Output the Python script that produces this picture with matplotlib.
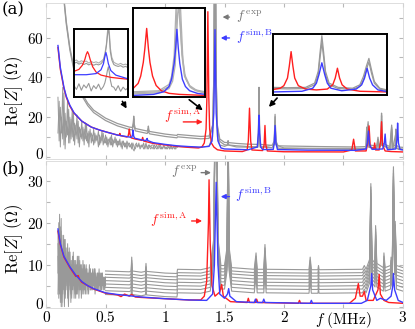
import numpy as np
import matplotlib.pyplot as plt
import matplotlib.transforms as mtransforms

plt.rcParams['mathtext.fontset'] = 'cm'
plt.rcParams['font.family'] = 'serif'
plt.rcParams['font.serif'] = ['DejaVu Serif']

GRAY = '#999999'
LGRAY = '#b0b0b0'
RED = '#ff1f1f'
BLUE = '#3d3dff'

# ---------------- panel (a) data ----------------
# noisy low-frequency measurements, sampled on a regular grid 0.10 .. 1.09 MHz
ga_noise = [
    [30, 8, 25, 12, 35, 6, 22, 10, 28, 7,
     20, 9, 24, 8, 17, 11, 21, 7, 15, 10,
     18, 8, 14, 9, 16, 7, 13, 10, 12, 8,
     14, 7, 11, 9, 13, 6, 10, 8, 12, 7,
     11, 6, 9, 8, 10, 6, 9, 7, 10, 6,
     8, 6, 9, 5, 8, 6, 7, 5, 8, 6,
     7, 5, 7, 4, 3, 6, 7, 5, 6, 5,
     6, 5, 7, 4, 6, 5, 4, 6, 5, 6,
     6, 4, 5, 6, 4, 5, 6, 4, 5, 5,
     5, 4, 5, 6, 4, 5, 4, 5, 4, 5],
    [12, 28, 5, 20, 9, 32, 4, 18, 11, 24,
     7, 19, 10, 22, 6, 16, 9, 18, 5, 14,
     9, 15, 6, 17, 8, 12, 5, 14, 7, 11,
     6, 12, 8, 10, 5, 11, 7, 13, 6, 9,
     7, 10, 5, 9, 6, 11, 5, 8, 7, 9,
     5, 8, 6, 7, 4, 8, 5, 7, 4, 7,
     5, 6, 4, 7, 5, 4, 6, 5, 7, 4,
     5, 6, 4, 5, 7, 4, 6, 5, 4, 5,
     4, 6, 5, 4, 5, 6, 4, 5, 4, 6,
     4, 5, 4, 5, 4, 6, 4, 5, 5, 4],
]

ga_low = [(1.095, 4.5), (1.11, 5.2), (1.2, 5.0), (1.3, 4.8), (1.37, 5.5), (1.40, 10),
          (1.41, 30), (1.415, 85), (1.425, 85), (1.43, 30), (1.44, 10), (1.46, 6),
          (1.5, 5.3), (1.53, 6.0), (1.6, 5.0), (1.78, 4.8), (1.785, 10), (1.79, 28),
          (1.795, 10), (1.80, 4.8), (1.918, 6), (1.925, 18), (1.932, 6), (2.0, 4.5),
          (2.3, 4.3), (2.69, 4.3), (2.695, 12), (2.70, 6), (2.707, 14), (2.714, 5),
          (2.78, 4.5), (2.79, 8.5), (2.80, 4.5), (2.815, 6), (2.82, 19), (2.825, 6),
          (2.9, 4.3), (2.905, 14), (2.915, 4.3), (2.94, 12), (2.945, 4.3), (3.0, 4.0)]

ga_up = [(0.13, 95), (0.15, 80), (0.17, 68), (0.2, 55), (0.25, 40), (0.3, 32),
         (0.35, 27), (0.4, 23.5), (0.5, 19.5), (0.6, 16.8), (0.7, 15), (0.725, 14.8),
         (0.733, 17), (0.737, 20.5), (0.741, 16.5), (0.75, 14.3), (0.85, 13),
         (0.856, 13.8), (0.86, 15.5), (0.864, 13.5), (0.87, 12.8), (1.0, 11.5),
         (1.1, 10.8), (1.105, 11.3), (1.2, 10.8), (1.3, 10.3), (1.37, 10.5), (1.40, 16),
         (1.41, 40), (1.415, 90), (1.425, 90), (1.43, 40), (1.44, 16), (1.46, 9),
         (1.5, 7.3), (1.525, 7.2), (1.53, 8.2), (1.535, 7.2), (1.6, 6.8), (1.7, 6.4),
         (1.78, 6.3), (1.785, 12), (1.79, 35), (1.795, 12), (1.80, 6.3), (1.9, 5.8),
         (1.918, 8), (1.925, 21.4), (1.932, 8), (1.95, 5.6), (2.0, 5.5), (2.3, 5.2),
         (2.6, 5.0), (2.69, 5.2), (2.695, 15), (2.70, 8), (2.707, 17.7), (2.714, 6),
         (2.78, 5.5), (2.79, 9.9), (2.80, 5.6), (2.815, 7), (2.82, 22), (2.825, 7),
         (2.89, 5.2), (2.905, 16), (2.915, 5.2), (2.935, 6), (2.94, 14), (2.945, 6),
         (2.96, 5), (3.0, 4.8)]
ga_up_shift = [0.0, -1.2]

red_a = [(0.1, 55), (0.12, 44), (0.15, 34.5), (0.17, 30), (0.2, 25.5), (0.235, 22),
         (0.3, 18), (0.38, 15), (0.45, 13.5), (0.52, 12.3), (0.6, 11), (0.615, 10.8),
         (0.62, 11.8), (0.625, 10.7), (0.68, 10), (0.69, 10.5), (0.695, 12), (0.70, 14),
         (0.705, 11.5), (0.715, 9.6), (0.75, 9.0), (0.805, 8.3), (0.812, 9.8),
         (0.82, 8.0), (0.9, 6.8), (1.0, 6.0), (1.1, 5.3), (1.2, 4.8), (1.28, 4.5),
         (1.31, 5), (1.33, 7), (1.345, 14), (1.352, 30), (1.36, 73), (1.368, 30),
         (1.375, 14), (1.39, 7), (1.41, 5), (1.44, 3.6), (1.5, 3.0), (1.65, 2.7),
         (1.69, 3.5), (1.70, 8), (1.71, 24.5), (1.72, 8), (1.73, 3.5), (1.82, 3.2),
         (1.833, 6), (1.84, 15.8), (1.847, 6), (1.86, 3), (2.0, 2.6), (2.5, 2.5),
         (2.57, 3.5), (2.585, 8.9), (2.6, 3), (2.69, 3), (2.705, 7), (2.715, 15.6),
         (2.725, 5), (2.755, 4), (2.762, 7), (2.77, 3.5), (2.80, 3.5), (2.812, 8),
         (2.82, 17.7), (2.828, 6), (2.85, 3), (2.9, 2.7), (3.0, 2.5)]

blue_a = [(0.1, 56), (0.12, 45), (0.15, 35), (0.17, 30.5), (0.2, 26), (0.235, 22.2),
          (0.3, 18), (0.38, 15), (0.45, 13.5), (0.52, 12.3), (0.6, 11), (0.66, 10.4),
          (0.72, 9.8), (0.726, 11), (0.731, 13.5), (0.736, 10.5), (0.745, 9.4),
          (0.80, 8.6), (0.84, 8.2), (0.846, 9), (0.85, 9.3), (0.855, 8.2), (0.9, 7.2),
          (1.0, 6.3), (1.1, 5.6), (1.2, 5.2), (1.3, 4.9), (1.37, 5.3), (1.395, 8),
          (1.41, 22), (1.42, 64), (1.43, 22), (1.445, 8), (1.47, 4.5), (1.5, 4.0),
          (1.7, 3.6), (1.775, 5), (1.785, 12), (1.79, 21), (1.795, 12), (1.805, 5),
          (1.82, 3.7), (1.91, 3.8), (1.918, 7), (1.925, 15.8), (1.932, 7), (1.945, 3.7),
          (2.2, 3.4), (2.6, 3.3), (2.69, 4), (2.70, 7), (2.71, 13), (2.72, 6),
          (2.74, 3.8), (2.83, 4), (2.843, 7), (2.85, 11.5), (2.857, 6), (2.87, 3.6),
          (2.94, 4), (2.95, 9), (2.955, 17), (2.962, 7), (2.975, 3.8), (3.0, 3.5)]

# insets of panel (a)
in1_red = [(0.665, 8.8), (0.675, 9.3), (0.682, 10.4), (0.687, 11.9), (0.690, 13.3),
           (0.6925, 14.0), (0.695, 13.3), (0.698, 11.9), (0.703, 10.0), (0.71, 8.6),
           (0.72, 7.8), (0.74, 7.2), (0.76, 6.9), (0.775, 6.7)]
in1_blue = [(0.665, 7.9), (0.69, 7.9), (0.71, 8.2), (0.72, 9.2), (0.725, 10.8),
            (0.728, 12.8), (0.730, 13.8), (0.732, 12.8), (0.735, 10.8), (0.74, 9.0),
            (0.75, 7.8), (0.775, 6.8)]
in1_f = [0.665, 0.67, 0.675, 0.68, 0.685, 0.69, 0.695, 0.70, 0.705, 0.71, 0.715, 0.72,
         0.725, 0.728, 0.731, 0.733, 0.735, 0.737, 0.739, 0.742, 0.746, 0.75, 0.755,
         0.76, 0.765, 0.77, 0.775]
in1_gray_hi = [11.5, 11.8, 11.2, 11.6, 11.3, 11.5, 11.0, 11.4, 11.1, 11.3, 11.0, 11.4,
               12.0, 13.5, 16, 19, 21, 19, 15, 12.5, 11.2, 10.9, 10.6, 10.9, 10.5, 10.7, 10.4]
in1_gray_mid = [10.9, 11.2, 10.7, 11.0, 10.6, 10.9, 10.5, 10.8, 10.4, 10.7, 10.5, 10.8,
                11.6, 13, 15.5, 18, 20.5, 18, 14, 11.8, 10.6, 10.3, 10.1, 10.3, 9.9, 10.1, 9.8]
in1_gray_lo = [5.0, 4.0, 5.5, 3.8, 5.2, 4.4, 5.6, 3.6, 5.0, 4.2, 5.4, 3.9, 4.8, 5.8,
               7.5, 9, 10, 8.5, 6.5, 4.8, 4.6, 3.7, 5.0, 3.5, 4.6, 3.9, 4.4]

in2_red = [(1.33, 8), (1.34, 13), (1.345, 20), (1.35, 33), (1.353, 46), (1.3566, 65.5),
           (1.36, 46), (1.363, 33), (1.368, 20), (1.375, 11), (1.385, 6), (1.40, 3.5),
           (1.42, 2.5), (1.47, 1.5)]
in2_blue = [(1.33, 1.5), (1.37, 2.5), (1.39, 5), (1.40, 10), (1.405, 17), (1.41, 32),
            (1.413, 47), (1.4154, 64.6), (1.418, 47), (1.421, 32), (1.426, 17),
            (1.432, 10), (1.44, 6), (1.455, 3.5), (1.47, 2.5)]
in2_gray = [
    [(1.33, 5), (1.38, 6), (1.40, 12), (1.405, 20), (1.41, 40), (1.414, 90), (1.42, 90),
     (1.425, 40), (1.43, 20), (1.44, 10), (1.45, 7), (1.47, 5)],
    [(1.33, 4), (1.38, 5), (1.40, 10), (1.406, 18), (1.411, 36), (1.416, 90), (1.422, 90),
     (1.427, 36), (1.432, 18), (1.442, 9), (1.452, 6), (1.47, 4)],
    [(1.33, 3), (1.38, 4), (1.40, 8), (1.407, 15), (1.412, 30), (1.417, 80), (1.419, 85),
     (1.425, 45), (1.43, 22), (1.44, 11), (1.455, 6), (1.47, 3.5)],
]

in3_red = [(1.66, 3.2), (1.68, 4), (1.69, 5.5), (1.70, 10), (1.705, 17), (1.71, 25.6),
           (1.715, 17), (1.72, 10), (1.73, 5.5), (1.75, 3.5), (1.78, 3), (1.81, 3.5),
           (1.825, 6), (1.832, 10), (1.838, 15.8), (1.844, 10), (1.851, 6), (1.865, 3.5),
           (1.9, 2.2), (1.975, 1.8)]
in3_blue = [(1.66, 1.8), (1.74, 2.2), (1.77, 4), (1.78, 7), (1.787, 12), (1.795, 19),
            (1.803, 12), (1.81, 7), (1.82, 4), (1.85, 2.5), (1.89, 3.5), (1.905, 6),
            (1.913, 10), (1.92, 15.8), (1.927, 10), (1.935, 6), (1.95, 3), (1.975, 2)]
in3_gray = [
    [(1.66, 4.5), (1.70, 4.3), (1.75, 4.5), (1.775, 7), (1.785, 14), (1.79, 25),
     (1.795, 35), (1.80, 25), (1.805, 14), (1.815, 7), (1.84, 4.5), (1.88, 4), (1.90, 6),
     (1.91, 11), (1.918, 17), (1.925, 21.6), (1.932, 15), (1.94, 8), (1.955, 4), (1.975, 3)],
    [(1.66, 3.8), (1.70, 3.6), (1.75, 3.8), (1.775, 6), (1.785, 12), (1.79, 22),
     (1.795, 31), (1.80, 22), (1.805, 12), (1.815, 6), (1.84, 3.8), (1.88, 3.4), (1.90, 5),
     (1.91, 9), (1.918, 15), (1.925, 19.5), (1.932, 13), (1.94, 7), (1.955, 3.5), (1.975, 2.6)],
]

# ---------------- panel (b) data ----------------
# noisy low-frequency traces, regular grid 0.10 .. 0.50 MHz
gb_noise = [
    [18, 2, 14, 5, 21, 1, 12, 4, 16, 3, 11, 6, 15, 2, 13, 4, 10, 3, 12, 5,
     9, 3, 11, 4, 10, 5, 12, 4, 8, 3, 9, 5, 10, 4, 8, 5, 9, 4, 7, 5,
     9, 4, 8, 5, 7, 4, 8, 5, 7, 4, 7, 5, 8, 4, 7, 5, 7, 4, 6, 5],
    [8, 20, 3, 15, 0, 17, 6, 12, 1, 14, 5, 10, 2, 13, 7, 11, 3, 9, 6, 12,
     2, 10, 7, 9, 3, 8, 6, 11, 4, 9, 6, 8, 3, 10, 7, 9, 5, 8, 6, 9,
     4, 8, 6, 9, 5, 8, 6, 7, 4, 8, 6, 8, 5, 7, 6, 8, 5, 7, 6, 7],
    [12, 4, 22, 7, 13, 0, 10, 8, 15, 2, 9, 6, 11, 1, 14, 5, 8, 2, 10, 7,
     4, 11, 3, 8, 6, 9, 2, 7, 5, 10, 3, 8, 6, 7, 4, 9, 5, 7, 3, 8,
     6, 7, 4, 8, 5, 9, 3, 7, 6, 8, 4, 7, 5, 8, 4, 6, 5, 7, 4, 6],
    [3, 16, 9, 19, 2, 13, 7, 17, 0, 11, 8, 14, 3, 12, 6, 9, 1, 11, 8, 13,
     5, 9, 2, 10, 7, 12, 4, 9, 7, 8, 4, 11, 6, 8, 3, 9, 7, 8, 5, 10,
     4, 8, 6, 7, 5, 9, 4, 8, 6, 7, 5, 9, 4, 7, 6, 8, 4, 7, 5, 7],
    [15, 6, 10, 1, 18, 9, 3, 14, 7, 16, 4, 9, 12, 0, 8, 13, 6, 10, 4, 9,
     11, 5, 8, 3, 12, 6, 9, 5, 10, 2, 7, 9, 4, 8, 6, 10, 3, 7, 8, 5,
     9, 6, 7, 4, 8, 6, 9, 5, 7, 5, 8, 6, 7, 5, 8, 5, 6, 6, 7, 5],
]

# common shape of the stacked measured traces (above 0.5 MHz) and their offsets
gb_shape = [(0.5, 0.2), (0.6, 0.1), (0.7, 0.0), (0.715, 0.2), (0.72, 3.5), (0.725, 0.2),
            (0.8, -0.1), (0.835, 0.1), (0.84, 2.0), (0.845, 0.1), (1.0, -0.3), (1.1, -0.4),
            (1.105, 0.6), (1.3, 0.5), (1.38, 1.0), (1.41, 8), (1.42, 40), (1.435, 40),
            (1.445, 8), (1.47, 1.5), (1.5, 1.5), (1.522, 6), (1.53, 40), (1.538, 6),
            (1.56, 1.0), (1.75, 0.6), (1.765, 4.5), (1.775, 0.6), (1.83, 0.6), (1.84, 6.5),
            (1.85, 0.6), (2.21, 0.5), (2.22, 3.5), (2.23, 0.5), (2.285, 0.5), (2.29, 1.5),
            (2.295, 0.5), (2.66, 0.6), (2.675, 1.5), (2.69, 0.6), (2.72, 3), (2.73, 21),
            (2.74, 3), (2.765, 2), (2.77, 11), (2.78, 2), (2.835, 1), (2.84, 4.5),
            (2.85, 1), (2.895, 1.5), (2.90, 3.5), (2.91, 2), (2.92, 25), (2.93, 5),
            (2.935, 12), (2.945, 1.5), (3.0, 1.0)]
gb_offsets = [2.7, 3.6, 4.4, 5.2, 6.0, 6.8, 7.5, 8.3]

red_b = [(0.1, 18), (0.12, 14.8), (0.15, 11.8), (0.2, 9.3), (0.25, 7.2), (0.27, 7.4),
         (0.28, 6.6), (0.3, 5.8), (0.4, 4.2), (0.5, 3.2), (0.6, 2.8), (0.63, 2.4),
         (0.66, 3.0), (0.7, 2.5), (0.72, 2.9), (0.75, 2.3), (0.8, 2.2), (1.0, 1.9),
         (1.2, 1.6), (1.3, 1.6), (1.33, 2.5), (1.35, 6), (1.365, 20), (1.37, 30.2),
         (1.38, 15), (1.395, 5), (1.42, 2.5), (1.46, 3.5), (1.476, 5.3), (1.49, 2.5),
         (1.55, 1.2), (1.69, 1), (1.70, 2), (1.71, 1), (1.76, 1), (1.77, 1.8), (1.78, 1),
         (2.12, 0.8), (2.13, 1.5), (2.14, 0.8), (2.55, 0.8), (2.6, 2), (2.625, 5.5),
         (2.64, 2.5), (2.66, 2.5), (2.675, 3.6), (2.69, 1.5), (2.75, 1.5), (2.79, 4),
         (2.80, 7.7), (2.81, 3), (2.84, 1.5), (2.88, 1), (3.0, 0.8)]

blue_b = [(0.1, 18.5), (0.12, 15), (0.15, 12), (0.2, 9.5), (0.25, 7.5), (0.3, 6),
          (0.35, 5), (0.4, 4.3), (0.5, 3.3), (0.6, 2.9), (0.7, 2.6), (0.8, 2.3),
          (1.0, 1.9), (1.2, 1.6), (1.35, 1.5), (1.4, 3), (1.415, 10), (1.43, 29.6),
          (1.445, 10), (1.46, 3), (1.5, 2), (1.525, 3), (1.535, 4.3), (1.545, 2.5),
          (1.6, 1.2), (1.75, 1), (1.76, 1.8), (1.77, 1), (1.82, 1), (1.83, 1.8),
          (1.84, 1), (2.22, 0.8), (2.23, 1.5), (2.24, 0.8), (2.65, 0.8), (2.7, 1.5),
          (2.73, 5), (2.737, 7.9), (2.745, 4), (2.78, 1.5), (2.81, 2), (2.86, 1.5),
          (2.9, 2.5), (2.915, 5), (2.92, 7.9), (2.93, 4), (2.96, 1.5), (3.0, 1)]


def xy(pairs):
    a = np.array(pairs, dtype=float)
    return a[:, 0], a[:, 1]


def px(x, y):
    # reference pixel position -> figure fraction
    return (x / 415.0, 1.0 - y / 329.0)


fig = plt.figure(figsize=(4.15, 3.29), dpi=100)
axa = fig.add_axes([0.111, 0.517, 0.860, 0.474])
axb = fig.add_axes([0.111, 0.064, 0.860, 0.447])

xt = [0, 0.5, 1, 1.5, 2, 2.5, 3]
for ax in (axa, axb):
    ax.set_xlim(0, 3)
    ax.set_xticks(xt)
    ax.tick_params(which='both', direction='in', top=True, right=True,
                   color='#b8b8b8', length=3, labelsize=11, pad=1.5)
    for s in ax.spines.values():
        s.set_color('#d8d8d8')
        s.set_linewidth(0.6)

# ---- (a)
for n in ga_noise:
    axa.plot(np.linspace(0.1, 1.09, len(n)), n, color=GRAY, lw=0.7)
axa.plot(*xy(ga_low), color=GRAY, lw=0.8)
for sh in ga_up_shift:
    fx, zy = xy(ga_up)
    axa.plot(fx, zy + sh, color=GRAY, lw=0.9)
axa.plot(*xy(red_a), color=RED, lw=1.0)
axa.plot(*xy(blue_a), color=BLUE, lw=1.0)
axa.set_ylim(-1, 77.4)
axa.set_yticks(np.arange(0, 71, 10))
axa.set_yticklabels(['$0$', '', '$20$', '', '$40$', '', '$60$', ''])
axa.set_xticklabels([])
axa.set_ylabel(r'$\mathrm{Re}[Z]\ (\Omega)$', fontsize=12)
axa.yaxis.set_label_coords(-0.058, 0.44)

axa.annotate('', xy=(1.34, 17.6), xytext=(1.13, 17.6),
             arrowprops=dict(arrowstyle='-|>', color=RED, lw=1.0, mutation_scale=7))
axa.text(0.99, 20.5, r'$f^{\,\mathrm{sim,A}}$', color=RED, fontsize=10, va='center')
axa.annotate('', xy=(1.46, 70.3), xytext=(1.565, 70.3),
             arrowprops=dict(arrowstyle='-|>', color='#777777', lw=1.0, mutation_scale=7))
axa.text(1.6, 70.5, r'$f^{\,\mathrm{exp}}$', color='#777777', fontsize=10, va='center')
axa.annotate('', xy=(1.445, 59.8), xytext=(1.565, 59.8),
             arrowprops=dict(arrowstyle='-|>', color=BLUE, lw=1.0, mutation_scale=7))
axa.text(1.6, 60.5, r'$f^{\,\mathrm{sim,B}}$', color=BLUE, fontsize=10, va='center')


# insets
def inset(rect, xlim, ylim):
    x0, y0 = px(rect[0], rect[3])
    x1, y1 = px(rect[2], rect[1])
    ia = fig.add_axes([x0, y0, x1 - x0, y1 - y0])
    ia.set_xlim(*xlim)
    ia.set_ylim(*ylim)
    ia.set_xticks([])
    ia.set_yticks([])
    for s in ia.spines.values():
        s.set_color('k')
        s.set_linewidth(1.4)
    return ia


i1 = inset((74, 29, 128, 97), (0.665, 0.775), (2, 20))
for vals, c in ((in1_gray_lo, GRAY), (in1_gray_hi, LGRAY), (in1_gray_mid, GRAY)):
    i1.plot(in1_f, vals, color=c, lw=0.8)
i1.plot(*xy(in1_red), color=RED, lw=0.9)
i1.plot(*xy(in1_blue), color=BLUE, lw=0.9)

i2 = inset((133, 8, 205, 97), (1.33, 1.47), (0, 85))
for g in in2_gray:
    i2.plot(*xy(g), color=LGRAY, lw=0.9)
i2.plot(*xy(in2_red), color=RED, lw=1.0)
i2.plot(*xy(in2_blue), color=BLUE, lw=1.0)

i3 = inset((273, 34, 387, 95), (1.66, 1.975), (0, 36))
for g in in3_gray:
    i3.plot(*xy(g), color=GRAY, lw=0.9)
i3.plot(*xy(in3_red), color=RED, lw=1.0)
i3.plot(*xy(in3_blue), color=BLUE, lw=1.0)

for a, b in (((121, 99), (128, 111)), ((187, 98), (205, 112)), ((279, 96), (267, 109))):
    fig.add_artist(plt.matplotlib.patches.FancyArrowPatch(
        px(*a), px(*b), transform=fig.transFigure, arrowstyle='-|>',
        mutation_scale=8, color='k', lw=1.2))

# ---- (b)
for n in gb_noise:
    axb.plot(np.linspace(0.1, 0.5, len(n)), n, color=GRAY, lw=0.7)
fs, zs = xy(gb_shape)
for off in gb_offsets:
    axb.plot(fs, zs + off, color=GRAY, lw=0.8)
axb.plot(*xy(red_b), color=RED, lw=1.0)
axb.plot(*xy(blue_b), color=BLUE, lw=1.0)
axb.set_ylim(-0.3, 34.7)
axb.set_yticks(np.arange(0, 31, 5))
axb.set_yticklabels(['$0$', '', '$10$', '', '$20$', '', '$30$'])
axb.set_xticklabels(['$0$', '$0.5$', '$1$', '$1.5$', '$2$',
                     r'$f\ \mathrm{(MHz)}$', '$3$'])
axb.set_ylabel(r'$\mathrm{Re}[Z]\ (\Omega)$', fontsize=12)
axb.yaxis.set_label_coords(-0.058, 0.47)

# lift the "0" labels on the y axes a little, as in the reference
lift = mtransforms.ScaledTranslation(0, 4 / 100, fig.dpi_scale_trans)
for ax in (axa, axb):
    lab = ax.get_yticklabels()[0]
    lab.set_transform(lab.get_transform() + lift)

axb.annotate('', xy=(1.41, 31.9), xytext=(1.28, 31.9),
             arrowprops=dict(arrowstyle='-|>', color='#777777', lw=1.0, mutation_scale=7))
axb.text(1.27, 32.2, r'$f^{\,\mathrm{exp}}$', color='#777777', fontsize=10,
         va='center', ha='right')
axb.annotate('', xy=(1.335, 20.4), xytext=(1.2, 20.4),
             arrowprops=dict(arrowstyle='-|>', color=RED, lw=1.0, mutation_scale=7))
axb.text(1.19, 20.6, r'$f^{\,\mathrm{sim,A}}$', color=RED, fontsize=10,
         va='center', ha='right')
axb.annotate('', xy=(1.445, 26.2), xytext=(1.565, 26.2),
             arrowprops=dict(arrowstyle='-|>', color=BLUE, lw=1.0, mutation_scale=7))
axb.text(1.59, 26.7, r'$f^{\,\mathrm{sim,B}}$', color=BLUE, fontsize=10, va='center')

fig.text(0.005, 0.995, '(a)', fontsize=12, va='top', ha='left')
fig.text(0.005, 0.512, '(b)', fontsize=12, va='top', ha='left')

fig.savefig('out.png', dpi=100)
